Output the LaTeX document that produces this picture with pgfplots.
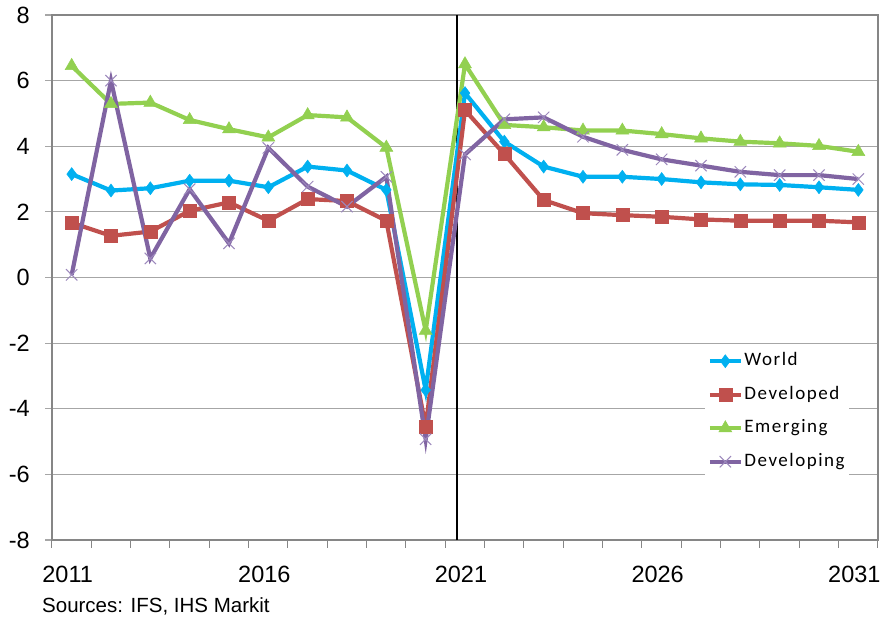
\documentclass[border=0pt]{standalone}
\usepackage{pgfplots}
\pgfplotsset{compat=1.18}
\usepackage{fontspec}
\setmainfont{Liberation Sans}
\newfontfamily\legfont[LetterSpace=8]{Carlito}
\definecolor{cWorld}{HTML}{00B0F0}
\definecolor{cDevd}{HTML}{C0504D}
\definecolor{cEmer}{HTML}{92D050}
\definecolor{cDevg}{HTML}{8064A2}
\definecolor{cDevgM}{HTML}{9C88BC}
\definecolor{cAxis}{HTML}{868686}
\definecolor{cGrid}{HTML}{A6A6A6}
\begin{document}
\begin{tikzpicture}
\path[use as bounding box] (-52pt,-78pt) rectangle (831pt,540pt);
\begin{axis}[
  scale only axis, width=826pt, height=525pt,
  at={(0pt,0pt)}, anchor=south west,
  xmin=2010.5, xmax=2031.5, ymin=-8, ymax=8,
  xtick={2011,2016,2021,2026,2031},
  minor xtick={2010.5,2011.5,...,2031.5},
  ytick={-8,-6,...,8},
  tick pos=left, tick align=outside,
  major tick length=7pt, minor tick length=8pt,
  major x tick style={draw=none},
  minor x tick style={draw=cAxis, line width=1pt},
  ytick style={draw=cGrid, line width=1.2pt},
  ymajorgrids, grid style={draw=cGrid, line width=1.2pt},
  axis line style={draw=cAxis, line width=1.2pt},
  /pgf/number format/assume math mode=true,
  /pgf/number format/1000 sep={},
  tick label style={font=\fontsize{23.5}{28}\selectfont},
  yticklabel style={anchor=east, inner sep=0pt, xshift=-15pt},
  xticklabel style={anchor=north, inner sep=0pt, yshift=-19pt, xshift=-4pt},
  clip=false,
  legend cell align=left,
  legend style={draw=none, fill=white, anchor=north west, at={(0.790,0.3676)},
    font=\legfont\fontsize{19}{22}\selectfont, row sep=11.5pt, inner sep=3pt,
    nodes={text height=14pt, text depth=5pt, inner sep=1.5pt}},
  legend image code/.code={\draw[mark repeat=2, mark phase=2] plot coordinates {(0pt,0pt) (15.5pt,0pt) (31pt,0pt)};},
]
\addplot[black, line width=2.5pt, forget plot] coordinates {(2020.8,-8) (2020.8,8)};
\addplot[cWorld, line width=4.2pt, mark=diamond*, mark size=6.5pt, mark options={solid, line width=0.5pt}] coordinates {
(2011,3.15) (2012,2.65) (2013,2.72) (2014,2.95) (2015,2.95) (2016,2.75) (2017,3.38) (2018,3.26) (2019,2.67) (2020,-3.43)
(2021,5.62) (2022,4.14) (2023,3.38) (2024,3.07) (2025,3.07) (2026,3.00) (2027,2.90) (2028,2.84) (2029,2.82) (2030,2.75) (2031,2.67)};
\addlegendentry{World}
\addplot[cDevd, line width=4.2pt, mark=square*, mark size=6.5pt, mark options={solid, line width=0.5pt}] coordinates {
(2011,1.67) (2012,1.27) (2013,1.40) (2014,2.03) (2015,2.29) (2016,1.73) (2017,2.39) (2018,2.33) (2019,1.73) (2020,-4.55)
(2021,5.10) (2022,3.76) (2023,2.36) (2024,1.96) (2025,1.90) (2026,1.85) (2027,1.77) (2028,1.73) (2029,1.73) (2030,1.73) (2031,1.68)};
\addlegendentry{Developed}
\addplot[cEmer, line width=4.2pt, mark=triangle*, mark size=7.5pt, mark options={solid, line width=0.5pt}] coordinates {
(2011,6.45) (2012,5.29) (2013,5.33) (2014,4.80) (2015,4.52) (2016,4.27) (2017,4.95) (2018,4.88) (2019,3.96) (2020,-1.62)
(2021,6.50) (2022,4.65) (2023,4.58) (2024,4.48) (2025,4.48) (2026,4.37) (2027,4.24) (2028,4.14) (2029,4.09) (2030,4.01) (2031,3.83)};
\addlegendentry{Emerging}
\addplot[cDevg, line width=4.2pt, mark=x, mark size=8pt, mark options={solid, draw=cDevgM, line width=1pt}] coordinates {
(2011,0.08) (2012,6.00) (2013,0.58) (2014,2.69) (2015,1.04) (2016,3.95) (2017,2.77) (2018,2.16) (2019,3.07) (2020,-4.93)
(2021,3.75) (2022,4.82) (2023,4.88) (2024,4.29) (2025,3.89) (2026,3.60) (2027,3.41) (2028,3.22) (2029,3.12) (2030,3.12) (2031,3.00)};
\addlegendentry{Developing}
\end{axis}
\node[anchor=base west, inner sep=0pt, font=\fontsize{20.5}{24}\selectfont] at (-10pt,-72pt) {Sources: IFS, IHS Markit};
\end{tikzpicture}
\end{document}
